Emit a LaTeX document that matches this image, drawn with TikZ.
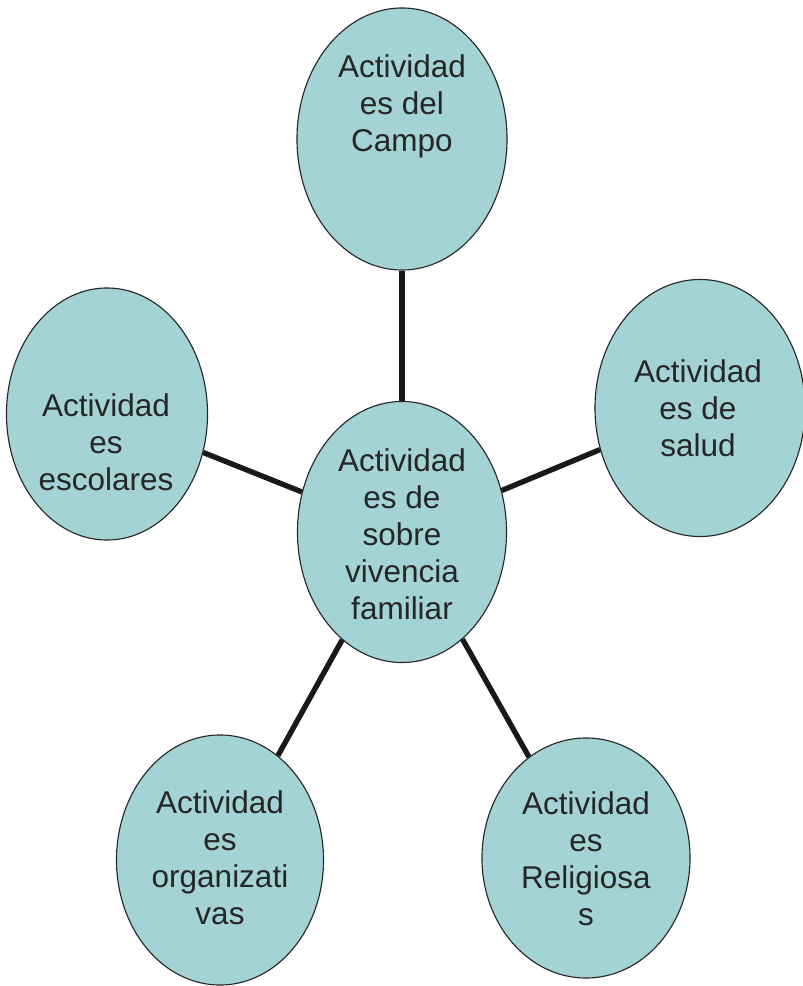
\documentclass[tikz,border=0pt]{standalone}
\usepackage{fontspec}
\setmainfont{Liberation Sans}
\usetikzlibrary{shapes.geometric}
\definecolor{bubblefill}{RGB}{164,211,214}
\begin{document}
\begin{tikzpicture}[x=0.025cm,y=-0.025cm,
         bubble/.style={ellipse,draw=black!85,line width=0.8pt,fill=bubblefill,inner sep=0pt},
         lbl/.style={align=center,font=\fontsize{22.4}{26.3}\selectfont,text=black!85},
         link/.style={line width=3.8pt,black!90}]
      % page frame
         \useasboundingbox (0,0) rectangle (802,986);
      %
         \node (familia) at (402,532) [bubble,minimum width=5.225cm,minimum height=6.525cm] {};
         \node (campo) at (402,139) [bubble,minimum width=5.25cm,minimum height=6.55cm] {};
         \node (escolar) at (107,414) [bubble,minimum width=5.025cm,minimum height=6.3cm] {};
         \node (salud) at (700,408) [bubble,minimum width=5.25cm,minimum height=6.425cm] {};
         \node (organiz) at (220,860) [bubble,minimum width=5.175cm,minimum height=6.25cm] {};
         \node (relig) at (586,858) [bubble,minimum width=5.2cm,minimum height=6.0cm] {};
      %% texts
         \node (familiaT) at (402,534) [lbl] {Actividad\\es de\\sobre\\vivencia\\familiar};
         \node (campoT) at (402,106) [lbl] {Actividad\\es del\\Campo};
         \node (escolarT) at (106,442) [lbl] {Actividad\\es\\escolares};
         \node (saludT) at (698,408) [lbl] {Actividad\\es de\\salud};
         \node (organizT) at (220,858) [lbl] {Actividad\\es\\organizati\\vas};
         \node (religT) at (586,859) [lbl] {Actividad\\es\\Religiosa\\s};
      %% connectors
         \draw[link](familia)--(campo);
         \draw[link](familia)--(escolar);
         \draw[link](familia)--(salud);
         \draw[link](familia)--(organiz);
         \draw[link](familia)--(relig);
   \end{tikzpicture}
\end{document}
